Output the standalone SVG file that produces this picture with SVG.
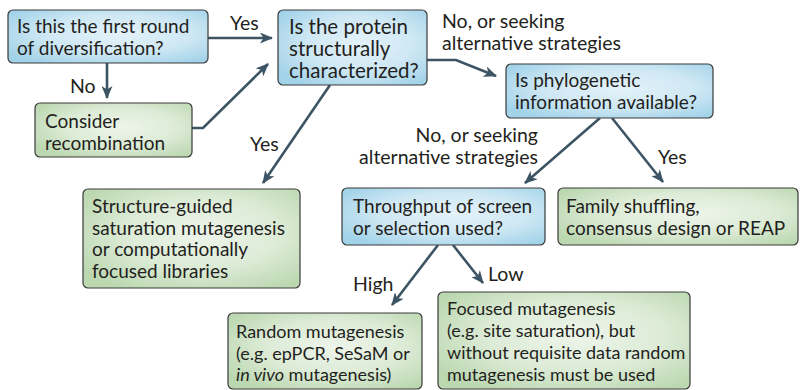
<svg xmlns="http://www.w3.org/2000/svg" width="800" height="390" viewBox="0 0 800 390">
<defs>
<radialGradient id="gBlue" cx="55%" cy="45%" r="65%">
<stop offset="0" stop-color="#e4f2f9"/>
<stop offset="0.55" stop-color="#cfe8f4"/>
<stop offset="1" stop-color="#a3d3e9"/>
</radialGradient>
<radialGradient id="gGreen" cx="55%" cy="45%" r="65%">
<stop offset="0" stop-color="#eef5eb"/>
<stop offset="0.55" stop-color="#dcebd6"/>
<stop offset="1" stop-color="#bcd8b1"/>
</radialGradient>
<marker id="ah" viewBox="0 0 13 11" refX="12" refY="5.5" markerWidth="13" markerHeight="11" markerUnits="userSpaceOnUse" orient="auto">
<path d="M0,0 L13,5.5 L0,11 L3.5,5.5 Z" fill="#3c5463"/>
</marker>
<style>
.q rect{fill:url(#gBlue);stroke:#3a3a3a;stroke-width:1.2}
.a rect{fill:url(#gGreen);stroke:#3a3a3a;stroke-width:1.2}
text{font-family:Lato,"Liberation Sans",Arial,sans-serif;font-size:19px;fill:#231f20}
#labels text{font-size:19.5px}
#n3 text{font-size:20.5px}
#n8 text,#n9 text{font-size:18px}
.c path{fill:none;stroke:#3c5463;stroke-width:2.6;marker-end:url(#ah)}
</style>
</defs>
<g id="connectors" class="c">
<path d="M208,38 L272,38"/>
<path d="M107,63 L107,98"/>
<path d="M192,128 L203,128 L268,64"/>
<path d="M427,60 L456,60 L496,76"/>
<path d="M330,85 L263,183"/>
<path d="M600,118 L525,183"/>
<path d="M612,118 L663,182"/>
<path d="M438,245 L392,305"/>
<path d="M453,245 L483,283"/>
</g>
<g id="labels">
<text x="230" y="30">Yes</text>
<text x="70" y="93">No</text>
<text x="442" y="28">No, or seeking</text>
<text x="442" y="50">alternative strategies</text>
<text x="250" y="151">Yes</text>
<text x="538" y="142" text-anchor="end">No, or seeking</text>
<text x="538" y="164" text-anchor="end">alternative strategies</text>
<text x="658" y="164">Yes</text>
<text x="353" y="291">High</text>
<text x="488" y="281">Low</text>
</g>
<g id="n1" class="q">
<rect x="8" y="10" width="200" height="53" rx="5"/>
<text x="17" y="33">Is this the first round</text>
<text x="17" y="55">of diversification?</text>
</g>
<g id="n2" class="a">
<rect x="35" y="103" width="157" height="54" rx="5"/>
<text x="45" y="128">Consider</text>
<text x="45" y="150">recombination</text>
</g>
<g id="n3" class="q">
<rect x="278" y="10" width="149" height="75" rx="5"/>
<text x="289" y="34">Is the protein</text>
<text x="289" y="56">structurally</text>
<text x="289" y="78">characterized?</text>
</g>
<g id="n4" class="q">
<rect x="506" y="64" width="207" height="54" rx="5"/>
<text x="515" y="87">Is phylogenetic</text>
<text x="515" y="109">information available?</text>
</g>
<g id="n5" class="a">
<rect x="83" y="189" width="217" height="99" rx="5"/>
<text x="92" y="213">Structure-guided</text>
<text x="92" y="235">saturation mutagenesis</text>
<text x="92" y="256">or computationally</text>
<text x="92" y="278">focused libraries</text>
</g>
<g id="n6" class="q">
<rect x="342" y="188" width="203" height="57" rx="5"/>
<text x="353" y="213">Throughput of screen</text>
<text x="353" y="235">or selection used?</text>
</g>
<g id="n7" class="a">
<rect x="558" y="188" width="240" height="57" rx="5"/>
<text x="566" y="213">Family shuffling,</text>
<text x="566" y="235">consensus design or REAP</text>
</g>
<g id="n8" class="a">
<rect x="228" y="313" width="194" height="76" rx="5"/>
<text x="236" y="338">Random mutagenesis</text>
<text x="236" y="360">(e.g. epPCR, SeSaM or</text>
<text x="236" y="381"><tspan font-style="italic">in vivo</tspan> mutagenesis)</text>
</g>
<g id="n9" class="a">
<rect x="438" y="292" width="252" height="97" rx="5"/>
<text x="447" y="315">Focused mutagenesis</text>
<text x="447" y="337">(e.g. site saturation), but</text>
<text x="447" y="359">without requisite data random</text>
<text x="447" y="381">mutagenesis must be used</text>
</g>
</svg>
